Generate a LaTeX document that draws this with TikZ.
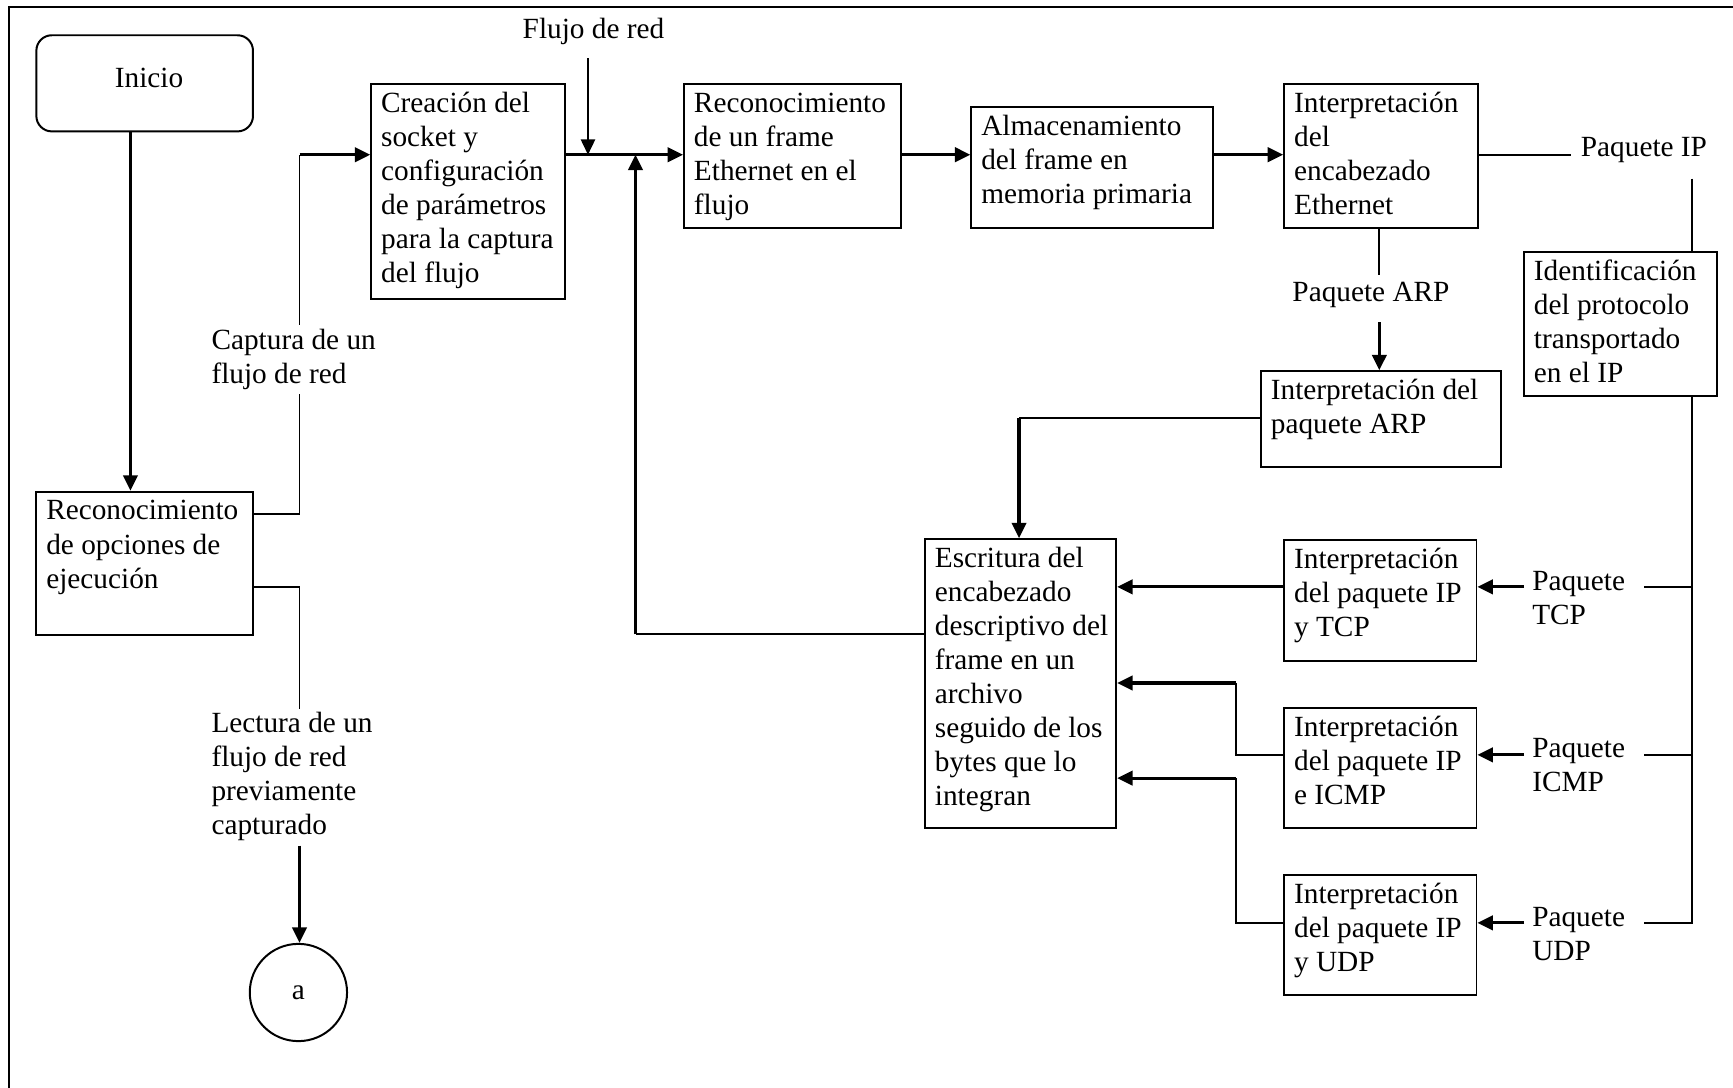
\documentclass[tikz,border=0pt]{standalone}
\usepackage{fontspec}
\setmainfont{Liberation Serif}
\usetikzlibrary{arrows.meta,calc}
\newcommand\bx[3]{\parbox[t][\dimexpr #2pt/2-4pt\relax][t]{\dimexpr #1pt/2\relax}{\raggedright\leftskip=4.5pt\strut #3}}
\newcommand\lb[1]{\begin{tabular}[t]{@{}l@{}}#1\end{tabular}}
\begin{document}
\begin{tikzpicture}[x=0.5pt,y=-0.5pt,
  font=\fontsize{13.25pt}{15.4pt}\selectfont,
  box/.style={draw, line width=0.9pt, inner xsep=0pt, inner ysep=2pt, anchor=north west},
  lbl/.style={inner sep=0pt, anchor=base west},
  thinl/.style={line width=0.85pt},
  arr/.style={line width=1.4pt, -{Triangle[length=7pt,width=6.5pt]}},
  arrthin/.style={line width=0.85pt, -{Triangle[length=7pt,width=6.5pt]}}]
\useasboundingbox (0,0) rectangle (1568,984);
\draw[line width=1pt] (8,984) -- (8,6.5) -- (1568,6.5);

% levels
\coordinate (yflow) at (0,140);
\coordinate (yC) at (0,465);
\coordinate (yL) at (0,531);
\coordinate (yT) at (0,531);
\coordinate (yI) at (0,683);
\coordinate (yU) at (0,835);
\coordinate (yIin) at (0,618);
\coordinate (yUin) at (0,704);
\coordinate (yUp) at (0,574);
\coordinate (yArp) at (0,378);
\coordinate (xIni) at (118,0);
\coordinate (xC) at (271,0);
\coordinate (xF) at (532,0);
\coordinate (xUp) at (575,0);
\coordinate (xArp) at (922,0);
\coordinate (xJ) at (1118,0);
\coordinate (xParp) at (1248,0);
\coordinate (xBus) at (1531,0);

% boxes
\node[box, rounded corners=7pt, minimum width=98pt, minimum height=43.5pt, inner sep=0pt, text height=9pt, text depth=5pt] (ini) at (32,31) {\hspace*{4pt}Inicio};
\node[box] (opc) at (32,444) {\bx{196}{130}{Reconocimiento\\de opciones de\\ejecución}};
\node[box] (cre) at (335,75) {\bx{175}{195}{Creación del\\socket y\\configuración\\de parámetros\\para la captura\\del flujo}};
\node[box] (rfe) at (618,75) {\bx{196}{130}{Reconocimiento\\de un frame\\Ethernet en el\\flujo}};
\node[box] (alm) at (878,96) {\bx{219}{109}{Almacenamiento\\del frame en\\memoria primaria}};
\node[box] (eth) at (1161,75) {\bx{175}{130}{Interpretación\\del\\encabezado\\Ethernet}};
\node[box] (ide) at (1378,227) {\bx{175}{130}{Identificación\\del protocolo\\transportado\\en el IP}};
\node[box] (arp) at (1140,335) {\bx{217}{87}{Interpretación del\\paquete ARP}};
\node[box] (esc) at (836,487) {\bx{173}{261}{Escritura del\\encabezado\\descriptivo del\\frame en un\\archivo\\seguido de los\\bytes que lo\\integran}};
\node[box] (tcp) at (1161,488) {\bx{174}{109}{Interpretación\\del paquete IP\\y TCP}};
\node[box] (icmp) at (1161,640) {\bx{174}{108}{Interpretación\\del paquete IP\\e ICMP}};
\node[box] (udp) at (1161,791) {\bx{174}{108}{Interpretación\\del paquete IP\\y UDP}};
\node[draw, circle, line width=0.9pt, minimum size=44pt, inner sep=0pt] (a) at (270,898) {a};

% labels
\node[lbl, anchor=base] (flujo) at (537,35) {\lb{Flujo de red}};
\node[lbl] (capt) at (191,316) {\lb{Captura de un\\flujo de red}};
\node[lbl] (lect) at (191,663) {\lb{Lectura de un\\flujo de red\\previamente\\capturado}};
\node[lbl] (pip) at (1430,142) {\lb{Paquete IP}};
\node[lbl] (parp) at (1169,273) {\lb{Paquete ARP}};
\node[lbl] (ptcp) at (1386,534) {\lb{Paquete\\TCP}};
\node[lbl] (picmp) at (1386,685) {\lb{Paquete\\ICMP}};
\node[lbl] (pudp) at (1386,838) {\lb{Paquete\\UDP}};

% connectors
\draw[arr] (ini.south -| xIni) -- (opc.north -| xIni);
\draw[thinl] (opc.east |- yC) -| (capt.south -| xC);
\draw[thinl] (capt.north -| xC) -- (xC |- yflow);
\draw[arr] (xC |- yflow) -- (cre.west |- yflow);
\draw[thinl] (opc.east |- yL) -| (lect.north -| xC);
\draw[arr] (lect.south -| xC) -- (xC |- a.north);

\draw[arr] (cre.east |- yflow) -- (rfe.west |- yflow);
\draw[arrthin, shorten <=4pt] (flujo.south -| xF) -- (xF |- yflow);
\draw[thinl] (esc.west |- yUp) -- (xUp |- yUp);
\draw[arr] (xUp |- yUp) -- (xUp |- yflow);
\draw[arr] (rfe.east |- yflow) -- (alm.west |- yflow);
\draw[arr] (alm.east |- yflow) -- (eth.west |- yflow);

\draw[thinl, shorten >=4.5pt] (eth.east |- yflow) -- (pip.west |- yflow);
\draw[thinl, shorten <=5pt] (pip.south -| xBus) -- (ide.north -| xBus);
\draw[thinl, shorten >=1pt] (eth.south -| xParp) -- (parp.north -| xParp);
\draw[arr, shorten <=4.5pt] (parp.south -| xParp) -- (arp.north -| xParp);
\draw[thinl] (arp.west |- yArp) -- (xArp |- yArp);
\draw[arr] (xArp |- yArp) -- (esc.north -| xArp);

\draw[thinl, shorten >=8.5pt] (ide.south -| xBus) -- (xBus |- yU) -- (pudp.east |- yU);
\draw[thinl, shorten >=8.5pt] (xBus |- yT) -- (ptcp.east |- yT);
\draw[thinl, shorten >=8.5pt] (xBus |- yI) -- (picmp.east |- yI);

\draw[arr, shorten <=3.5pt] (ptcp.west |- yT) -- (tcp.east |- yT);
\draw[arr, shorten <=3.5pt] (picmp.west |- yI) -- (icmp.east |- yI);
\draw[arr, shorten <=3.5pt] (pudp.west |- yU) -- (udp.east |- yU);

\draw[arr] (tcp.west |- yT) -- (esc.east |- yT);
\draw[thinl] (icmp.west |- yI) -| (xJ |- yIin);
\draw[arr] (xJ |- yIin) -- (esc.east |- yIin);
\draw[thinl] (udp.west |- yU) -| (xJ |- yUin);
\draw[arr] (xJ |- yUin) -- (esc.east |- yUin);
\end{tikzpicture}
\end{document}
